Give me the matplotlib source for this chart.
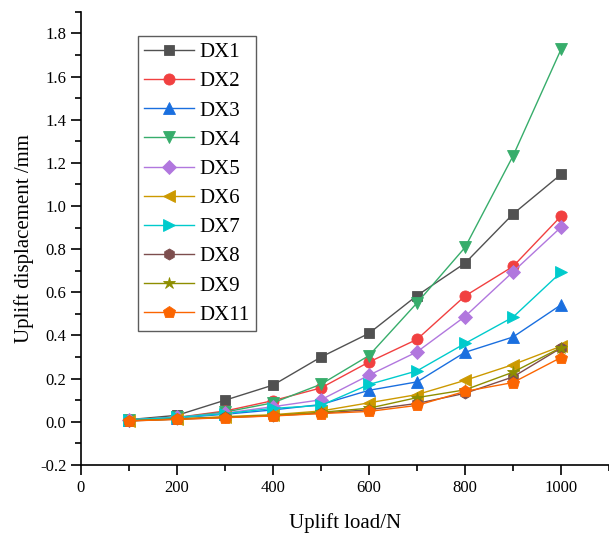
import numpy as np
import matplotlib.pyplot as plt
from matplotlib.ticker import MultipleLocator

plt.rcParams['font.family'] = ['Liberation Serif', 'DejaVu Serif']

load = [100, 200, 300, 400, 500, 600, 700, 800, 900, 1000]

DX1 = [0.01, 0.03, 0.10, 0.17, 0.30, 0.41, 0.585, 0.735, 0.963, 1.147]
DX2 = [0.01, 0.02, 0.05, 0.098, 0.157, 0.277, 0.382, 0.583, 0.72, 0.953]
DX3 = [0.008, 0.018, 0.035, 0.055, 0.08, 0.146, 0.185, 0.322, 0.393, 0.542]
DX4 = [0.01, 0.02, 0.045, 0.088, 0.174, 0.307, 0.551, 0.808, 1.232, 1.726]
DX5 = [0.01, 0.02, 0.04, 0.07, 0.102, 0.216, 0.324, 0.488, 0.695, 0.902]
DX6 = [0.005, 0.013, 0.024, 0.033, 0.05, 0.088, 0.126, 0.192, 0.265, 0.35]
DX7 = [0.01, 0.02, 0.038, 0.062, 0.076, 0.173, 0.236, 0.363, 0.485, 0.693]
DX8 = [0.004, 0.012, 0.02, 0.028, 0.04, 0.056, 0.085, 0.132, 0.208, 0.342]
DX9 = [0.005, 0.013, 0.021, 0.03, 0.044, 0.063, 0.112, 0.148, 0.23, 0.344]
DX11 = [0.004, 0.011, 0.019, 0.027, 0.038, 0.048, 0.076, 0.141, 0.182, 0.298]

series = [DX1, DX2, DX3, DX4, DX5, DX6, DX7, DX8, DX9, DX11]
names = ['DX1', 'DX2', 'DX3', 'DX4', 'DX5', 'DX6', 'DX7', 'DX8', 'DX9', 'DX11']
colors = ['#515151', '#F14040', '#1A6FDF', '#37AD6B', '#B177DE',
          '#CC9900', '#00CBCC', '#7D4E4E', '#8E8E00', '#FB6501']
markers = ['s', 'o', '^', 'v', 'D', '<', '>', 'h', '*', 'p']
msizes = [7, 8, 8, 8, 7, 8, 8, 8, 9, 9]

fig = plt.figure(figsize=(6.09, 5.40), dpi=100)
ax = fig.add_axes([0.133, 0.139, 0.867, 0.839])

for y, name, c, m, ms in zip(series, names, colors, markers, msizes):
    ax.plot(load, y, color=c, marker=m, markersize=ms, linewidth=1,
            markeredgewidth=0.6, label=name)

ax.set_xlim(0, 1100)
ax.set_ylim(-0.2, 1.9)
ax.xaxis.set_major_locator(MultipleLocator(200))
ax.xaxis.set_minor_locator(MultipleLocator(100))
ax.yaxis.set_major_locator(MultipleLocator(0.2))
ax.yaxis.set_minor_locator(MultipleLocator(0.1))
ax.yaxis.set_major_formatter(plt.FormatStrFormatter('%.1f'))

ax.spines['top'].set_visible(False)
ax.spines['right'].set_visible(False)
ax.spines['left'].set_linewidth(1.2)
ax.spines['bottom'].set_linewidth(1.2)
ax.tick_params(which='major', direction='out', length=7, width=1.2, labelsize=12)
ax.tick_params(which='minor', direction='out', length=4, width=1.2)

ax.set_xlabel('Uplift load/N', fontsize=15, labelpad=13)
ax.set_ylabel('Uplift displacement /mm', fontsize=15, labelpad=4)

leg = ax.legend(loc='upper left', bbox_to_anchor=(0.108, 0.946), fontsize=15,
                frameon=True, fancybox=False, edgecolor='#333333',
                handlelength=2.4, labelspacing=0.46, borderpad=0.3,
                handletextpad=0.25, borderaxespad=0)
leg.get_frame().set_linewidth(1.0)

fig.savefig('out.png', dpi=100)
